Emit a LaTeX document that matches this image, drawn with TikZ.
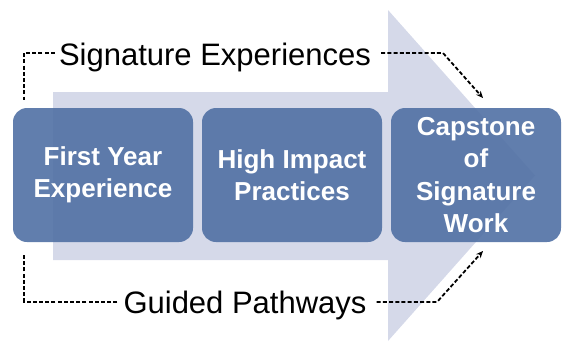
\documentclass[tikz,border=0pt]{standalone}
\usepackage{fontspec}
\setmainfont{Liberation Sans}
\usetikzlibrary{arrows.meta}
\definecolor{arrowfill}{RGB}{213,217,233}
\definecolor{boxfill}{RGB}{80,112,164}
\tikzset{
  stagebox/.style={draw=none, fill=boxfill, fill opacity=0.9, text opacity=1,
    rounded corners=14pt, minimum height=134pt, inner sep=0pt, text=white,
    font=\bfseries\fontsize{26}{32.5}\selectfont, align=center},
  biglabel/.style={inner sep=0pt, anchor=base, text=black,
    font=\fontsize{31}{36}\selectfont},
  dashline/.style={draw=black, line width=1.8pt, dash pattern=on 4pt off 2.2pt},
  dasharrow/.style={dashline, -{Stealth[length=7pt,width=6pt]}}
}
\begin{document}
\begin{tikzpicture}[x=1pt,y=-1pt]
\useasboundingbox (0,0) rectangle (564,341);
% big background arrow
\fill[arrowfill] (53,92) -- (388,92) -- (388,10) -- (535,175.5) -- (388,341)
  -- (388,260) -- (53,260) -- cycle;
% stage boxes
\node[stagebox, minimum width=180pt] (b1) at (103,175) {First Year\\Experience};
\node[stagebox, minimum width=180pt] (b2) at (292,175) {High Impact\\Practices};
\node[stagebox, minimum width=170pt] (b3) at (476,175) {Capstone\\of\\Signature\\Work};
% labels
\node[biglabel] (sig) at (215,65) {Signature Experiences};
\node[biglabel] (gp) at (245,313) {Guided Pathways};
% connector ends
\coordinate (topleft) at (24,100);
\coordinate (botleft) at (24,255);
\coordinate (topbend) at (443,53);
\coordinate (botbend) at (437,302);
\coordinate (topend) at (483,98);
\coordinate (botend) at (483,251);
% dashed connectors
\draw[dashline] ([xshift=-4pt]sig.west |- 0,53) -- (24,53) -- (topleft);
\draw[dasharrow] ([xshift=10pt]sig.east |- 0,53) -- (topbend) -- (topend);
\draw[dashline] ([xshift=-6pt]gp.west |- 0,302) -- (24,302) -- (botleft);
\draw[dasharrow] ([xshift=10pt]gp.east |- 0,302) -- (botbend) -- (botend);
\end{tikzpicture}
\end{document}
